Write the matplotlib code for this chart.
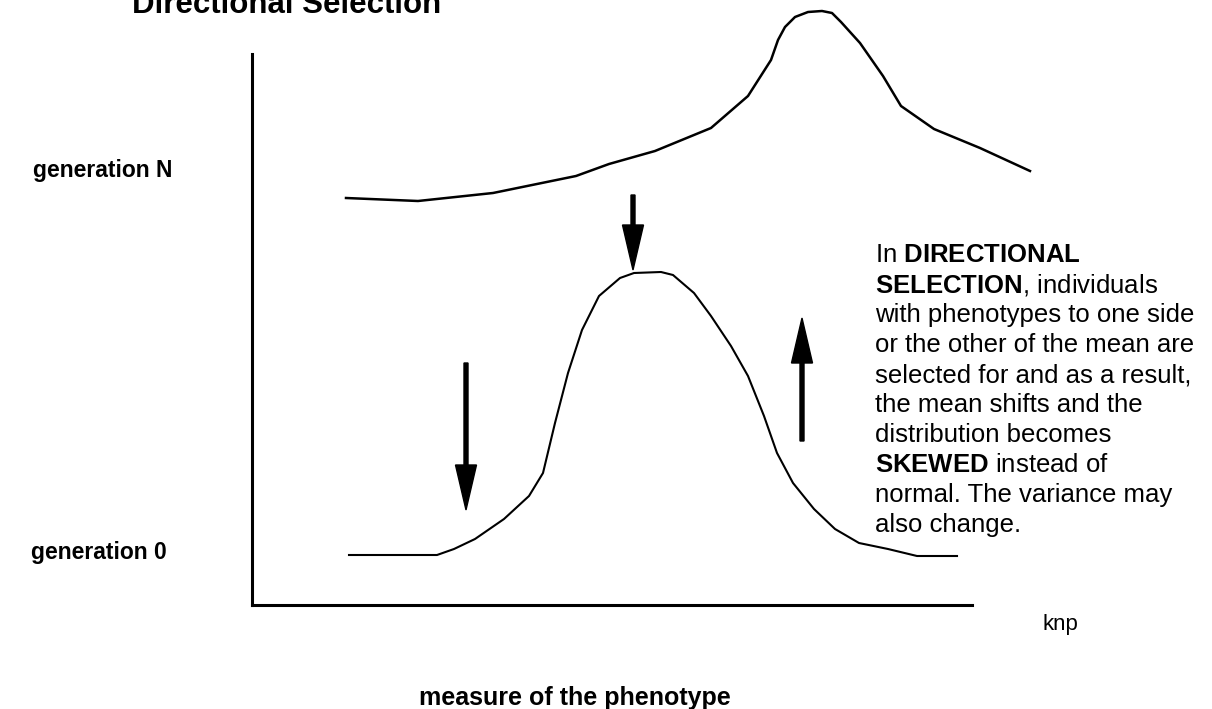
import matplotlib
matplotlib.use("Agg")
import matplotlib.pyplot as plt

plt.rcParams["font.family"] = ["Liberation Sans", "DejaVu Sans"]
plt.rcParams["mathtext.fontset"] = "custom"
plt.rcParams["mathtext.rm"] = "Liberation Sans"
plt.rcParams["mathtext.bf"] = "Liberation Sans:bold"

# phenotype (x) vs frequency (y), in the axis units of the drawing frame
gen_n_x = [94, 166, 241, 324, 357, 403, 459, 496, 519, 526, 533, 543, 556,
           570, 580, 589, 608, 631, 649, 682, 728, 778]
gen_n_y = [407, 404, 412, 429, 441, 454, 477, 509, 545, 565, 578, 588, 593,
           594, 592, 583, 562, 529, 499, 476, 457, 434]

gen_0_x = [97, 185, 202, 223, 252, 277, 291, 303, 316, 330, 347, 368, 382,
           409, 421, 442, 459, 479, 496, 512, 525, 541, 562, 583, 607, 636,
           665, 705]
gen_0_y = [50, 50, 56, 66, 86, 109, 132, 182, 232, 275, 309, 327, 332,
           333, 330, 312, 289, 259, 229, 189, 152, 122, 96, 76, 62, 56,
           49, 49]

# selection arrows: (x, y_start, y_end)
arrows = [
    (381, 410, 335),   # mean of generation 0
    (214, 242, 95),    # selected against (left tail)
    (550, 164, 287),   # selected for (right tail)
]

text_lines = [
    r"In $\bf{DIRECTIONAL}$",
    r"$\bf{SELECTION}$, individuals",
    "with phenotypes to one side",
    "or the other of the mean are",
    "selected for and as a result,",
    "the mean shifts and the",
    "distribution becomes",
    r"$\bf{SKEWED}$ instead of",
    "normal. The variance may",
    "also change.",
]

fig = plt.figure(figsize=(12.12, 7.09), dpi=100)
ax = fig.add_axes([252 / 1212, 104 / 709, 720 / 1212, 551 / 709])
ax.set_xlim(0, 720)
ax.set_ylim(0, 551)
ax.set_xticks([])
ax.set_yticks([])
for side in ("top", "right"):
    ax.spines[side].set_visible(False)
for side in ("left", "bottom"):
    ax.spines[side].set_linewidth(2.2)

ax.plot(gen_n_x, gen_n_y, color="black", lw=1.8, clip_on=False)
ax.plot(gen_0_x, gen_0_y, color="black", lw=1.5, clip_on=False)

for x, y0, y1 in arrows:
    ax.arrow(x, y0, 0, y1 - y0, width=4, head_width=21, head_length=45,
             length_includes_head=True, color="black", clip_on=False)

ax.text(-120, 592, "Directional Selection", fontsize=22.5, weight="bold",
        va="baseline", clip_on=False)
ax.text(-80, 428, "generation N", fontsize=16.5, weight="bold",
        ha="right", va="baseline", clip_on=False)
ax.text(-85, 46, "generation 0", fontsize=16.5, weight="bold",
        ha="right", va="baseline", clip_on=False)
ax.text(790, -25, "knp", fontsize=16, va="baseline", clip_on=False)
ax.text(167, -100, "measure of the phenotype", fontsize=18, weight="bold",
        va="baseline", clip_on=False)

for i, line in enumerate(text_lines):
    ax.text(623, 343 - 30 * i, line, fontsize=18.5, va="baseline",
            clip_on=False)

fig.savefig("out.png", dpi=100)
